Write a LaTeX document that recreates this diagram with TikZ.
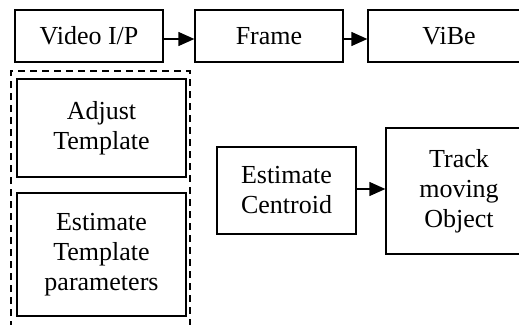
\documentclass[tikz,border=0pt]{standalone}
\usepackage{fontspec}
\setmainfont{Liberation Serif}
\usetikzlibrary{arrows.meta}
\begin{document}
\begin{tikzpicture}[x=1pt,y=-1pt,
  box/.style={draw=black,line width=1.3pt,rectangle,inner sep=0pt,align=center,
    font=\fontsize{26}{30}\selectfont},
  flow/.style={line width=1.3pt,-{Triangle[length=16pt,width=14pt]}},
  group/.style={draw=black,line width=1.1pt,dash pattern=on 7pt off 5pt}]
\useasboundingbox (0,0) rectangle (519,324);
\clip (0,0) rectangle (519,324);
% top row
\node[box,minimum width=148pt,minimum height=52pt] (video) at (89,36) {Video I/P};
\node[box,minimum width=148pt,minimum height=52pt] (frame) at (269,36) {Frame};
\node[box,minimum width=162pt,minimum height=52pt] (vibe) at (449,36) {ViBe};
\coordinate (a1) at (163,39);
\coordinate (a2) at (343,39);
\draw[flow] (a1) -- (a1 -| frame.west);
\draw[flow] (a2) -- (a2 -| vibe.west);
% dashed group
\draw[group] (11,340) -- (11,71) -- (190,71) -- (190,340);
\node[box,minimum width=169pt,minimum height=98pt] (adjust) at (101.5,128) {Adjust\\Template};
\node[box,minimum width=169pt,minimum height=123pt] (params) at (101.5,254.5) {Estimate\\Template\\parameters};
% centroid and track
\node[box,minimum width=139pt,minimum height=87pt] (centroid) at (286.5,190.5) {Estimate\\Centroid};
\node[box,minimum width=146pt,minimum height=126pt] (track) at (459,191) {Track\\moving\\Object};
\coordinate (a3) at (356,189);
\draw[flow] (a3) -- (a3 -| track.west);
\end{tikzpicture}
\end{document}
